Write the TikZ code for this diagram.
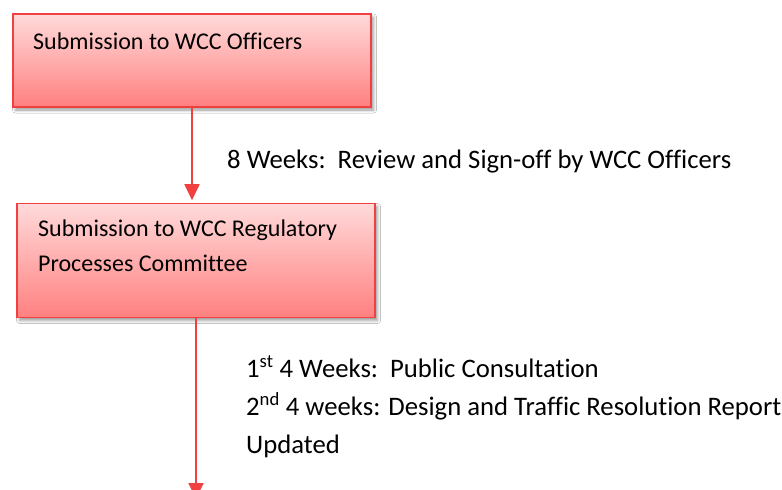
\documentclass[tikz,border=0pt]{standalone}
\usepackage{fontspec}
\setmainfont{Carlito}[Ligatures=NoCommon]
\usetikzlibrary{arrows.meta,shadows.blur}
\definecolor{boxtop}{RGB}{255,218,218}
\definecolor{boxbot}{RGB}{255,128,128}
\definecolor{boxline}{RGB}{240,64,64}
\definecolor{flowred}{RGB}{240,64,64}
\tikzset{
  stagebox/.style={draw=boxline, line width=1.6pt, rectangle, inner sep=0pt,
    top color=boxtop, bottom color=boxbot,
    blur shadow={shadow xshift=2.5pt, shadow yshift=-3pt, shadow blur radius=3pt, shadow opacity=40}},
  txt/.style={anchor=base west, inner sep=0pt, font=\fontsize{24}{29}\selectfont, text=black},
  note/.style={txt, font=\fontsize{26.7}{32}\selectfont},
  flow/.style={draw=flowred, line width=1.8pt, -{Triangle[width=15pt,length=16pt]}}
}
\begin{document}
\begin{tikzpicture}[x=1pt, y=-1pt]
  \useasboundingbox[fill=white] (0,0) rectangle (782,490);

  % process stages
  \node[stagebox, minimum width=358pt, minimum height=93pt] (b1) at (192,60.5) {};
  \node[stagebox, minimum width=358pt, minimum height=114pt] (b2) at (196,260.5) {};

  \node[txt] (t1) at (33,49) {Submission to WCC Officers};
  \node[txt] (t2a) at (38,236.7) {Submission to WCC Regulatory};
  \node[txt] (t2b) at (38,271.7) {Processes Committee};

  % transitions between stages
  \coordinate (end) at (196.7,499);
  \draw[flow, shorten >=2.5pt] (b1.south) -- (b1.south |- b2.north);
  \draw[flow] (b2.south) -- (b2.south |- end);

  \node[note] (l1) at (227,168) {8 Weeks:\ \ Review and Sign-off by WCC Officers};
  \node[note] (l2a) at (246,377) {1\textsuperscript{st} 4 Weeks:\ \ Public Consultation};
  \node[note] (l2b) at (246,415) {2\textsuperscript{nd} 4 weeks: Design and Traffic Resolution Report};
  \node[note] (l2c) at (246,453) {Updated};
\end{tikzpicture}
\end{document}
